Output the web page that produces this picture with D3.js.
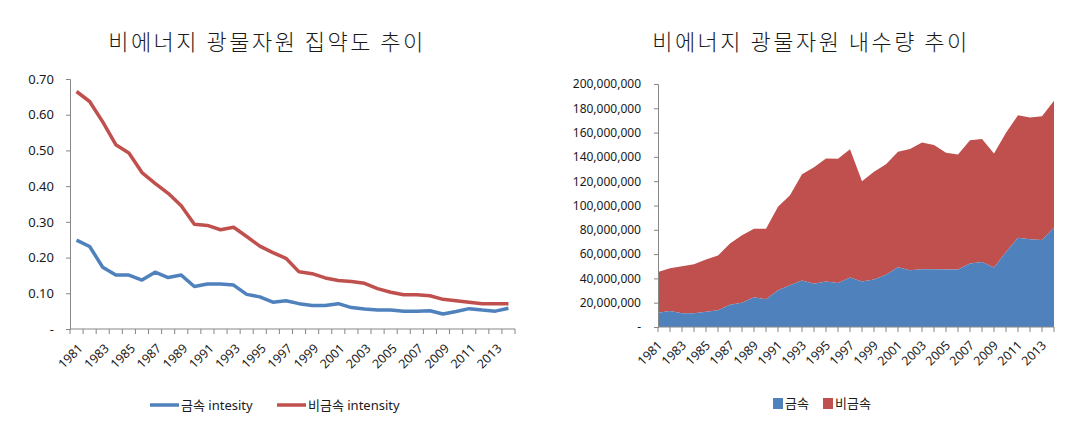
<!DOCTYPE html>
<html><head><meta charset="utf-8">
<script src="https://cdn.jsdelivr.net/npm/d3@7"></script>
<style>
body{margin:0;background:#fff;}
text{font-family:"Noto Sans","Noto Sans CJK KR",sans-serif;fill:#1a1a1a;}
.title{font-family:"Noto Sans CJK KR",sans-serif;font-size:22px;letter-spacing:2.5px;font-weight:300;}
</style></head>
<body><svg id="c" width="1080" height="436"></svg>
<script>
const years = d3.range(1981, 2015).map(String);
const metalIntensity = [0.249,0.231,0.173,0.151,0.151,0.137,0.159,0.144,0.151,0.119,0.126,0.126,0.123,0.097,0.090,0.075,0.079,0.071,0.066,0.066,0.071,0.060,0.056,0.053,0.053,0.050,0.050,0.051,0.042,0.049,0.057,0.053,0.050,0.058];
const nonMetalIntensity = [0.665,0.637,0.580,0.516,0.493,0.438,0.408,0.380,0.345,0.293,0.290,0.278,0.285,0.259,0.232,0.214,0.198,0.160,0.155,0.143,0.136,0.133,0.128,0.113,0.103,0.096,0.096,0.093,0.083,0.079,0.075,0.071,0.071,0.071];
const metalDemand = [11.8,13.2,11.3,11.3,12.6,13.7,18.4,20.0,24.5,22.8,30.2,34.3,38.2,35.7,37.4,36.3,40.7,37.4,39.0,43.1,49.2,46.7,47.5,47.5,47.3,47.3,52.2,53.6,48.9,61.8,73.4,72.3,71.7,81.9].map(v=>v*1e6);
const totalDemand = [45.3,48.4,50.0,51.6,55.5,58.8,68.7,75.5,80.8,80.8,98.9,108.5,125.8,131.5,138.7,138.5,146.2,120.0,127.7,134.0,144.2,146.4,151.9,149.7,143.4,142.0,153.8,154.7,142.9,159.9,174.2,172.5,173.4,186.3].map(v=>v*1e6);
const nonMetalDemand = totalDemand.map((t,i)=>t-metalDemand[i]);
const leftTicks = [0,0.1,0.2,0.3,0.4,0.5,0.6,0.7];
const rightTicks = d3.range(0, 200000001, 20000000);
const leftTitle = "비에너지 광물자원 집약도 추이";
const rightTitle = "비에너지 광물자원 내수량 추이";
const leftLegend = ["금속 intesity","비금속 intensity"];
const rightLegend = ["금속","비금속"];
const blue = "#4F81BD", red = "#C0504D", axisCol = "#868686";

const svg = d3.select("#c");
const labelYears = years.filter((y,i)=>i%2===0);

// ---------- LEFT ----------
{
  const x = d3.scaleBand().domain(years).range([70,515]);
  const y = d3.scaleLinear().domain([0,0.7]).range([329,79]);
  const g = svg.append("g");
  g.append("text").attr("class","title").attr("x",267).attr("y",50).attr("text-anchor","middle").text(leftTitle);
  const ya = g.append("g").attr("transform","translate(70,0)")
    .call(d3.axisLeft(y).tickValues(leftTicks).tickSize(4).tickPadding(12).tickFormat(d=>d===0?"-":d.toFixed(2)));
  ya.selectAll("line,path").attr("stroke",axisCol);
  ya.selectAll("text").style("font-size","13px");
  g.append("line").attr("x1",70).attr("x2",515).attr("y1",329).attr("y2",329).attr("stroke",axisCol);
  g.selectAll(".bt").data(d3.range(years.length+1)).join("line")
    .attr("x1",i=>70+i*x.step()).attr("x2",i=>70+i*x.step()).attr("y1",329).attr("y2",334).attr("stroke",axisCol);
  g.selectAll(".xl").data(labelYears).join("text")
    .attr("transform",d=>`translate(${x(d)+x.bandwidth()/2+4},${346}) rotate(-45)`)
    .attr("text-anchor","end").attr("dy","0.35em").style("font-size","12.5px").text(d=>d);
  const line = d3.line().x((d,i)=>x(years[i])+x.bandwidth()/2).y(d=>y(d));
  g.append("path").datum(metalIntensity).attr("d",line).attr("fill","none").attr("stroke",blue).attr("stroke-width",3.5).attr("stroke-linejoin","round");
  g.append("path").datum(nonMetalIntensity).attr("d",line).attr("fill","none").attr("stroke",red).attr("stroke-width",3.5).attr("stroke-linejoin","round");
  const lg = g.append("g");
  [[150,blue,leftLegend[0]],[277,red,leftLegend[1]]].forEach(([lx,c,t])=>{
    lg.append("line").attr("x1",lx).attr("x2",lx+29).attr("y1",405).attr("y2",405).attr("stroke",c).attr("stroke-width",3.5);
    lg.append("text").attr("x",lx+31).attr("y",405).attr("dy","0.35em").style("font-size","13px").text(t);
  });
}

// ---------- RIGHT ----------
{
  const x = d3.scalePoint().domain(years).range([658,1054]);
  const y = d3.scaleLinear().domain([0,200000000]).range([327,84]);
  const g = svg.append("g");
  g.append("text").attr("class","title").attr("x",811).attr("y",50).attr("text-anchor","middle").text(rightTitle);
  const area = d3.area().x((d,i)=>x(years[i])).y0(d=>y(d[0])).y1(d=>y(d[1]));
  const metalBands = metalDemand.map(v=>[0,v]);
  const nonBands = metalDemand.map((v,i)=>[v,v+nonMetalDemand[i]]);
  g.append("path").datum(nonBands).attr("d",area).attr("fill",red);
  g.append("path").datum(metalBands).attr("d",area).attr("fill",blue);
  const ya = g.append("g").attr("transform","translate(658,0)")
    .call(d3.axisLeft(y).tickValues(rightTicks).tickSize(4).tickPadding(13).tickFormat(d=>d===0?"-":d3.format(",")(d)));
  ya.selectAll("line,path").attr("stroke",axisCol);
  ya.selectAll("text").style("font-size","12px");
  g.append("line").attr("x1",658).attr("x2",1054).attr("y1",327).attr("y2",327).attr("stroke",axisCol);
  g.selectAll(".bt").data(years).join("line")
    .attr("x1",d=>x(d)).attr("x2",d=>x(d)).attr("y1",327).attr("y2",332).attr("stroke",axisCol);
  g.selectAll(".xl").data(labelYears).join("text")
    .attr("transform",d=>`translate(${x(d)+2},${343}) rotate(-45)`)
    .attr("text-anchor","end").attr("dy","0.35em").style("font-size","12.5px").text(d=>d);
  const lg = g.append("g");
  [[773,blue,rightLegend[0]],[823,red,rightLegend[1]]].forEach(([lx,c,t])=>{
    lg.append("rect").attr("x",lx).attr("y",398).attr("width",10).attr("height",11).attr("fill",c);
    lg.append("text").attr("x",lx+12).attr("y",403.5).attr("dy","0.35em").style("font-size","13px").text(t);
  });
}
</script></body></html>
